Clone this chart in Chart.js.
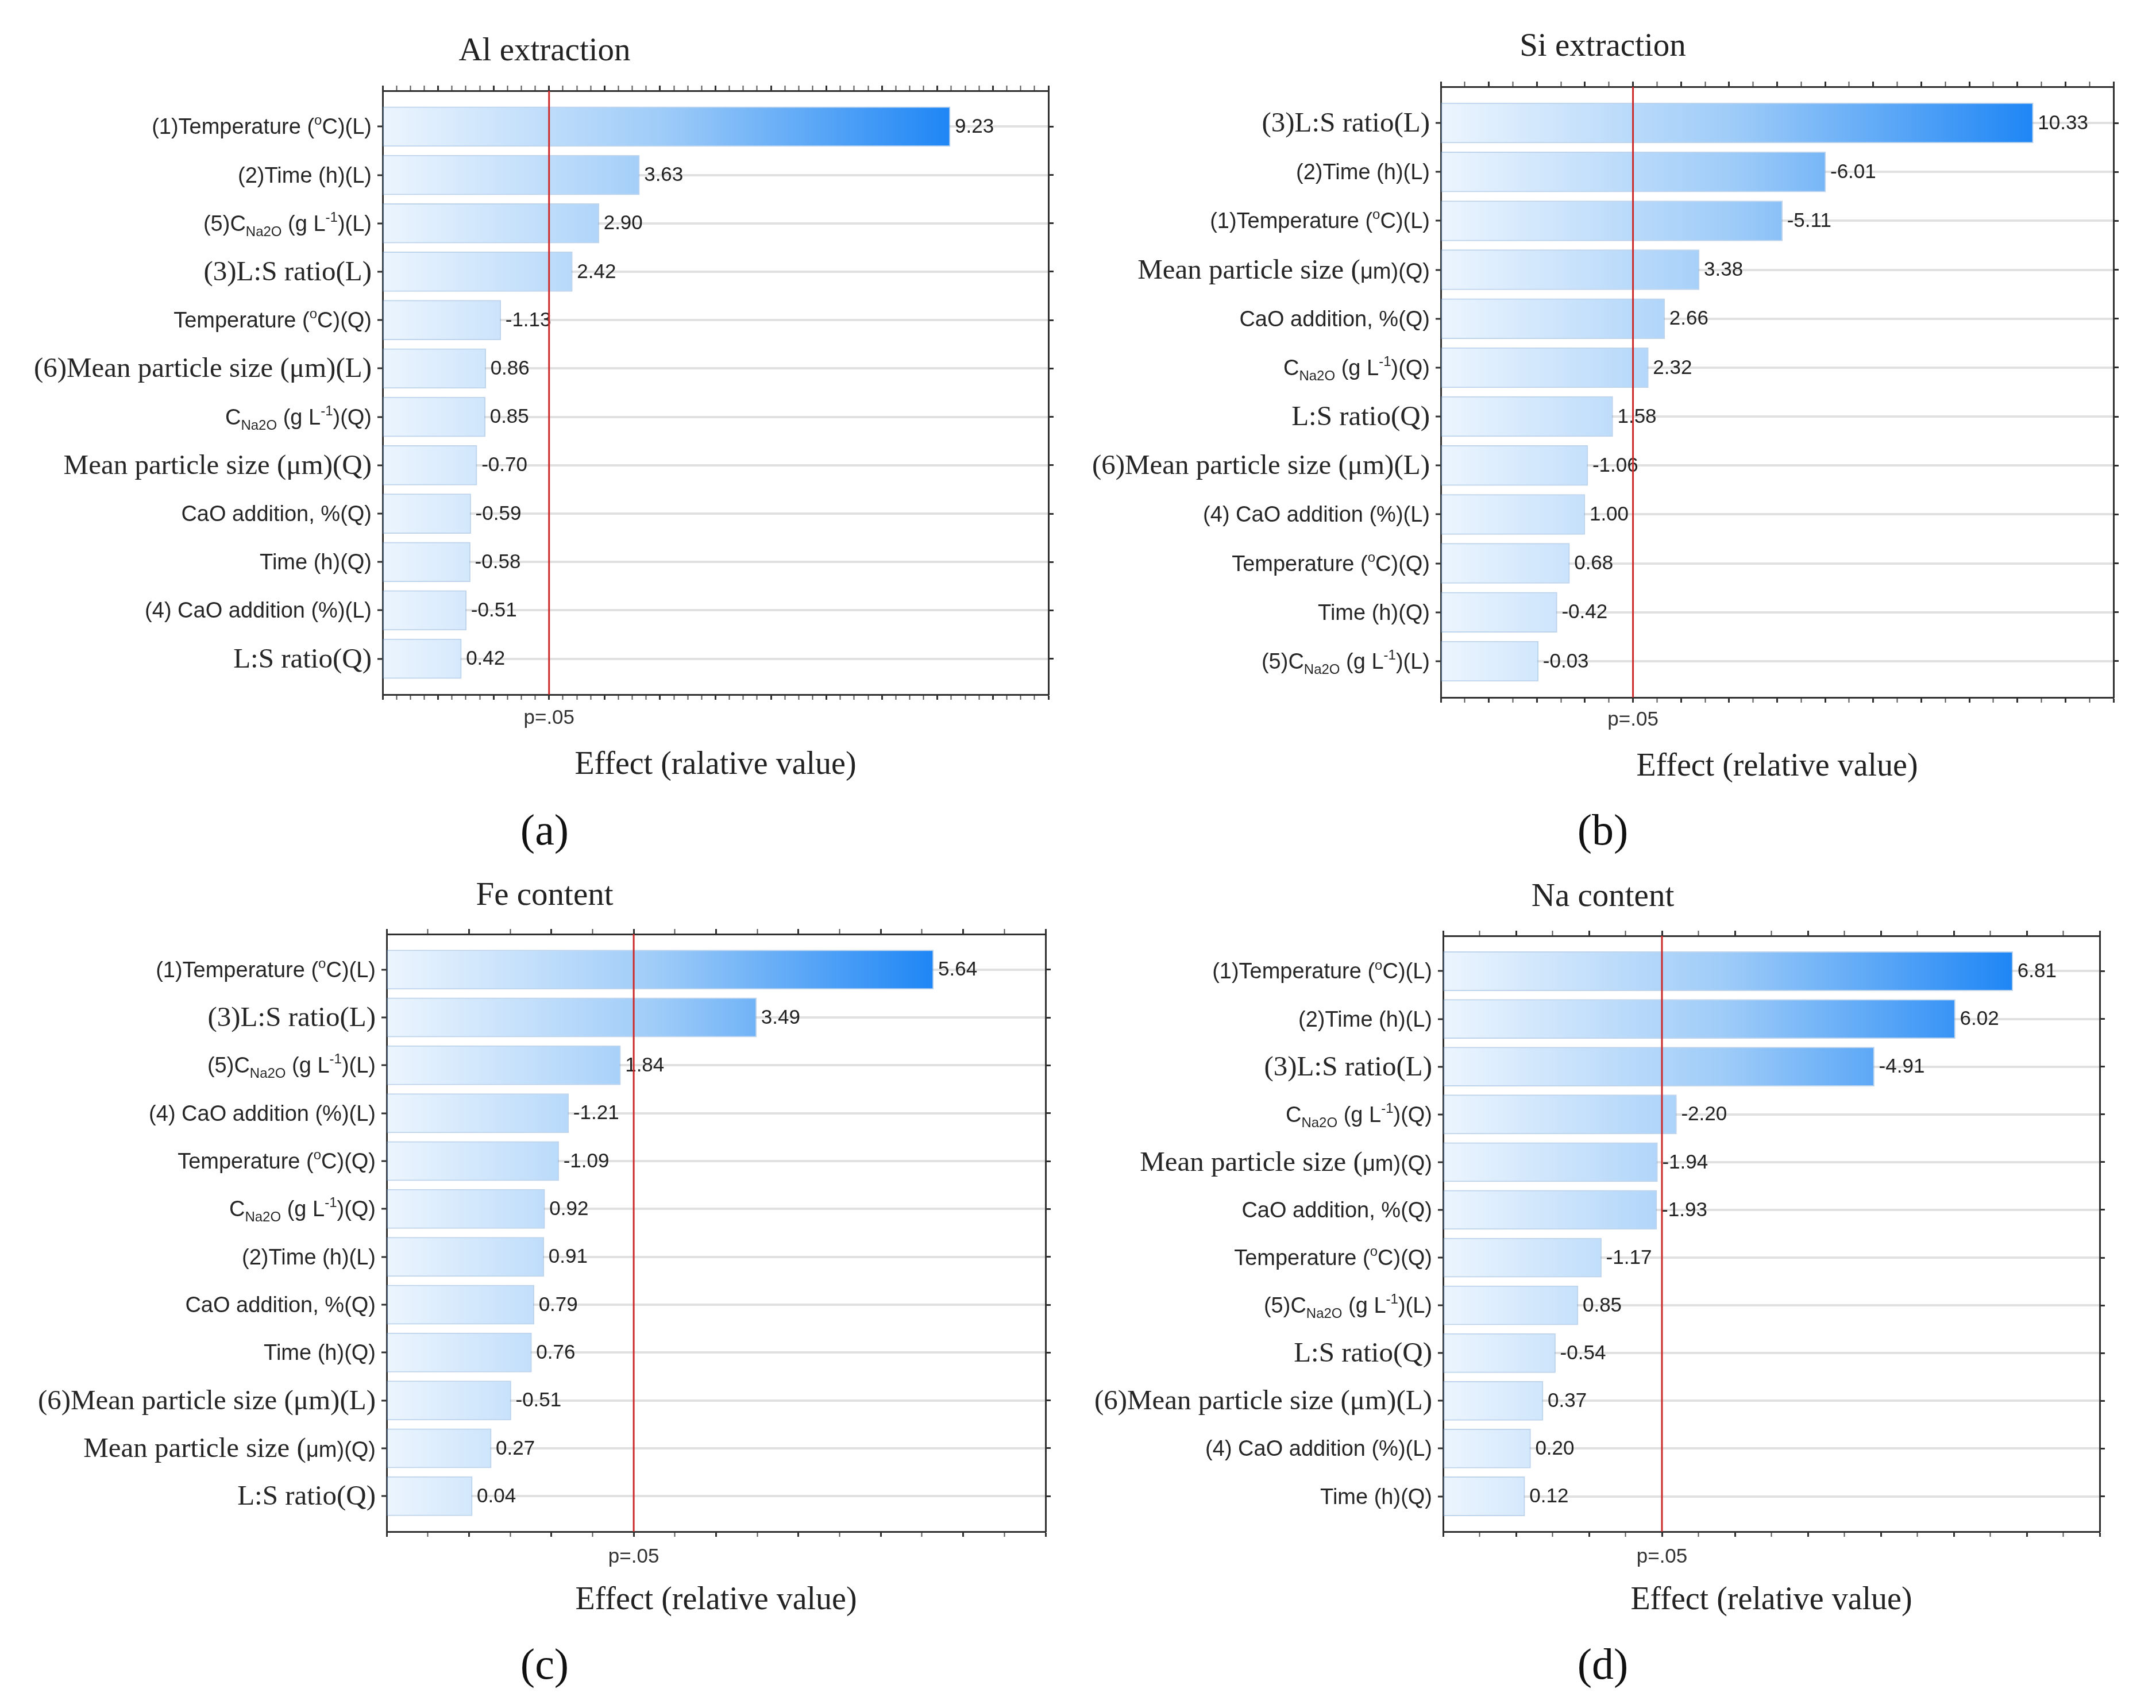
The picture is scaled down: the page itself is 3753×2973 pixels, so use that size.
<!DOCTYPE html>
<html>
<head>
<meta charset="utf-8">
<script src="https://cdn.jsdelivr.net/npm/chart.js@4.4.1/dist/chart.umd.min.js"></script>
<style>
  html, body { margin: 0; padding: 0; background: #fff; }
  #page { position: relative; width: 3753px; height: 2973px; overflow: hidden; background: #fff; }
  canvas { position: absolute; }
</style>
</head>
<body>
<div id="page"></div>
<script>
// Label markup: [..] = serif text, _{..} = subscript, ^{..} = superscript
const alLabels = [
  "(1)Temperature (^{o}C)(L)", "(2)Time (h)(L)", "(5)C_{Na2O} (g L^{-1})(L)", "[(3)L:S ratio(L)]",
  "Temperature (^{o}C)(Q)", "[(6)Mean particle size (μm)(L)]", "C_{Na2O} (g L^{-1})(Q)",
  "[Mean particle size (μm)(Q)]", "CaO addition, %(Q)", "Time (h)(Q)", "(4) CaO addition (%)(L)", "[L:S ratio(Q)]"
];
const alValues = [9.23, 3.63, 2.90, 2.42, -1.13, 0.86, 0.85, -0.70, -0.59, -0.58, -0.51, 0.42];

const siLabels = [
  "[(3)L:S ratio(L)]", "(2)Time (h)(L)", "(1)Temperature (^{o}C)(L)", "[Mean particle size (]μm)(Q)",
  "CaO addition, %(Q)", "C_{Na2O} (g L^{-1})(Q)", "[L:S ratio(Q)]", "[(6)Mean particle size (μm)(L)]",
  "(4) CaO addition (%)(L)", "Temperature (^{o}C)(Q)", "Time (h)(Q)", "(5)C_{Na2O} (g L^{-1})(L)"
];
const siValues = [10.33, -6.01, -5.11, 3.38, 2.66, 2.32, 1.58, -1.06, 1.00, 0.68, -0.42, -0.03];

const feLabels = [
  "(1)Temperature (^{o}C)(L)", "[(3)L:S ratio(L)]", "(5)C_{Na2O} (g L^{-1})(L)", "(4) CaO addition (%)(L)",
  "Temperature (^{o}C)(Q)", "C_{Na2O} (g L^{-1})(Q)", "(2)Time (h)(L)", "CaO addition, %(Q)",
  "Time (h)(Q)", "[(6)Mean particle size (μm)(L)]", "[Mean particle size (]μm)(Q)", "[L:S ratio(Q)]"
];
const feValues = [5.64, 3.49, 1.84, -1.21, -1.09, 0.92, 0.91, 0.79, 0.76, -0.51, 0.27, 0.04];

const naLabels = [
  "(1)Temperature (^{o}C)(L)", "(2)Time (h)(L)", "[(3)L:S ratio(L)]", "C_{Na2O} (g L^{-1})(Q)",
  "[Mean particle size (]μm)(Q)", "CaO addition, %(Q)", "Temperature (^{o}C)(Q)", "(5)C_{Na2O} (g L^{-1})(L)",
  "[L:S ratio(Q)]", "[(6)Mean particle size (μm)(L)]", "(4) CaO addition (%)(L)", "Time (h)(Q)"
];
const naValues = [6.81, 6.02, -4.91, -2.20, -1.94, -1.93, -1.17, 0.85, -0.54, 0.37, 0.20, 0.12];

const panelTitles = ["Al extraction", "Si extraction", "Fe content", "Na content"];
const axisTitles = ["Effect (ralative value)", "Effect (relative value)", "Effect (relative value)", "Effect (relative value)"];
const panelTags = ["(a)", "(b)", "(c)", "(d)"];
const axisMin = [-1, -2, -1, -1];
const axisMax = [11, 12, 7, 8];
const minorStep = [0.25, 0.5, 0.5, 0.5];
const critValue = 2.0;
const critLabel = "p=.05";

// where each plot frame sits on the page
const frames = [
  { left: 666, right: 1825, top: 158, bottom: 1209, titleX: 948, titleY: 90, tickY: 1250, axisTitleY: 1332, tagY: 1450, canvasTop: 0, canvasH: 1500 },
  { left: 2508, right: 3679, top: 151, bottom: 1214, titleX: 2790, titleY: 82, tickY: 1253, axisTitleY: 1335, tagY: 1450, canvasTop: 0, canvasH: 1500 },
  { left: 673, right: 1820, top: 1626, bottom: 2666, titleX: 948, titleY: 1560, tickY: 2710, axisTitleY: 2786, tagY: 2902, canvasTop: 1500, canvasH: 1473 },
  { left: 2512, right: 3655, top: 1629, bottom: 2666, titleX: 2790, titleY: 1562, tickY: 2710, axisTitleY: 2786, tagY: 2902, canvasTop: 1500, canvasH: 1473 }
];

const SANS = "Liberation Sans";
const SERIF = "Liberation Serif";
const sansSize = 38;
const serifSize = 49;
const titleSize = 57;
const axisTitleSize = 56;
const tagSize = 76;
const tickFontSize = 35;
const valueFontSize = 35;
const tickLen = 9;
const rowPad = 0.74;
const barShare = 0.82;

Chart.defaults.font.family = SANS;

function parseLabel(str) {
  const segs = [];
  let serif = false, buf = "", i = 0;
  const push = (text, mode) => { if (text) segs.push({ text, serif, mode }); };
  while (i < str.length) {
    const c = str[i];
    if (c === "[" || c === "]") {
      push(buf, "n"); buf = "";
      serif = c === "[";
      i++;
    } else if ((c === "_" || c === "^") && str[i + 1] === "{") {
      push(buf, "n"); buf = "";
      const end = str.indexOf("}", i);
      push(str.slice(i + 2, end), c === "_" ? "sub" : "sup");
      i = end + 1;
    } else {
      buf += c; i++;
    }
  }
  push(buf, "n");
  return segs;
}

function segFont(s) {
  const base = s.serif ? serifSize : sansSize;
  const size = s.mode === "n" ? base : Math.round(base * 0.62);
  return size + 'px "' + (s.serif ? SERIF : SANS) + '"';
}

function drawRichLabel(ctx, text, xRight, yMid) {
  const segs = parseLabel(text);
  let total = 0;
  segs.forEach(s => { ctx.font = segFont(s); s.w = ctx.measureText(s.text).width; total += s.w; });
  const baseline = yMid + (segs[0].serif ? 15 : 13);
  let x = xRight - total;
  segs.forEach(s => {
    const base = s.serif ? serifSize : sansSize;
    const dy = s.mode === "sub" ? base * 0.24 : (s.mode === "sup" ? -base * 0.42 : 0);
    ctx.font = segFont(s);
    ctx.fillText(s.text, x, baseline + dy);
    x += s.w;
  });
}

function stepTicks(min, max, step) {
  const out = [];
  const n = Math.round((max - min) / step);
  for (let i = 0; i <= n; i++) out.push({ value: +(min + i * step).toFixed(4) });
  return out;
}

// tick context may be missing when the scale resolves options for itself
const isMajor = c => !!(c && c.tick) && Math.abs(c.tick.value - Math.round(c.tick.value)) < 1e-6;

function makePanel(k, labels, values) {
  const f = frames[k];
  const page = document.getElementById("page");
  const cw = 1810;
  const cx = f.titleX - cw / 2;
  const cv = document.createElement("canvas");
  cv.width = cw; cv.height = f.canvasH;
  cv.style.left = cx + "px"; cv.style.top = f.canvasTop + "px";
  cv.style.width = cw + "px"; cv.style.height = f.canvasH + "px";
  page.appendChild(cv);

  const L = f.left - cx, R = f.right - cx;
  const T = f.top - f.canvasTop, B = f.bottom - f.canvasTop;
  const titleY = f.titleY - f.canvasTop;
  const tickY = f.tickY - f.canvasTop;
  const axisTitleY = f.axisTitleY - f.canvasTop;
  const tagY = f.tagY - f.canvasTop;

  const topAxisH = tickLen;
  const titlePadTop = titleY - 0.6 * titleSize;
  const titlePadBottom = T - topAxisH - titlePadTop - 1.2 * titleSize;
  const bottomAxisH = axisTitleY + 0.6 * axisTitleSize - B;
  const tickPad = tickY - B - tickLen - 0.6 * tickFontSize;
  const tagPadTop = tagY - (B + bottomAxisH) - 0.6 * tagSize;
  const tagBoxH = tagPadTop + 1.2 * tagSize;
  const padBottom = f.canvasH - (B + bottomAxisH + tagBoxH);

  const n = values.length;
  const yMin = -rowPad, yMax = n - 1 + rowPad;
  const xMin = axisMin[k], xMax = axisMax[k];
  const maxEffect = Math.max(...values.map(v => Math.abs(v)));
  const rowPx = (B - T) / (yMax - yMin);

  const barFill = (c) => {
    const chart = c.chart;
    const area = chart.chartArea;
    if (!area) return "#9ccbf8";
    const x1 = chart.scales.x.getPixelForValue(maxEffect);
    const g = chart.ctx.createLinearGradient(area.left, 0, x1, 0);
    g.addColorStop(0, "#ecf5fe");
    g.addColorStop(0.5, "#9dcbf8");
    g.addColorStop(1, "#1e86f5");
    return g;
  };

  const decor = {
    id: "paretoDecor" + k,
    afterDatasetsDraw(chart) {
      const { ctx, chartArea } = chart;
      const meta = chart.getDatasetMeta(0);
      ctx.save();
      ctx.font = valueFontSize + 'px "' + SANS + '"';
      ctx.fillStyle = "#222";
      ctx.textAlign = "left";
      ctx.textBaseline = "middle";
      meta.data.forEach((bar, i) => {
        ctx.fillText(values[i].toFixed(2), bar.x + 8, bar.y + 1);
      });
      const xc = chart.scales.x.getPixelForValue(critValue);
      ctx.strokeStyle = "#cc2a2a";
      ctx.lineWidth = 3;
      ctx.beginPath();
      ctx.moveTo(xc, chartArea.top);
      ctx.lineTo(xc, chartArea.bottom);
      ctx.stroke();
      ctx.restore();
    },
    afterDraw(chart) {
      const { ctx, chartArea } = chart;
      const ys = chart.scales.y;
      ctx.save();
      ctx.fillStyle = "#262626";
      ctx.textAlign = "left";
      ctx.textBaseline = "alphabetic";
      labels.forEach((lab, i) => {
        drawRichLabel(ctx, lab, chartArea.left - 19, ys.getPixelForValue(i));
      });
      ctx.restore();
    }
  };

  const frameBorder = { display: true, color: "#303030", width: 3 };
  const tickStyle = {
    drawOnChartArea: false,
    drawTicks: true,
    tickLength: tickLen,
    color: "#555",
    tickColor: c => isMajor(c) ? "#303030" : "#555",
    tickWidth: c => isMajor(c) ? 3 : 2
  };

  new Chart(cv, {
    type: "bar",
    data: {
      datasets: [{
        data: values.map((v, i) => ({ x: Math.abs(v), y: i })),
        base: xMin,
        backgroundColor: barFill,
        borderColor: "rgba(110,160,215,0.45)",
        borderWidth: 2,
        borderSkipped: false,
        barThickness: rowPx * barShare
      }]
    },
    options: {
      indexAxis: "y",
      responsive: false,
      animation: false,
      devicePixelRatio: 1,
      layout: { padding: { left: 0, right: 0, top: 0, bottom: padBottom } },
      plugins: {
        legend: { display: false },
        tooltip: { enabled: false },
        title: {
          display: true,
          text: panelTitles[k],
          color: "#222",
          font: { family: SERIF, size: titleSize, weight: "normal" },
          padding: { top: titlePadTop, bottom: titlePadBottom }
        },
        subtitle: {
          display: true,
          position: "bottom",
          text: panelTags[k],
          color: "#111",
          font: { family: SERIF, size: tagSize, weight: "normal" },
          padding: { top: tagPadTop, bottom: 0 }
        }
      },
      scales: {
        x: {
          type: "linear",
          position: "bottom",
          offset: false,
          min: xMin,
          max: xMax,
          afterBuildTicks: s => { s.ticks = stepTicks(xMin, xMax, minorStep[k]); },
          afterFit: s => { s.height = bottomAxisH; },
          ticks: {
            autoSkip: false,
            maxRotation: 0,
            minRotation: 0,
            padding: tickPad,
            color: "#333",
            font: { family: SANS, size: tickFontSize },
            callback: v => Math.abs(v - critValue) < 1e-6 ? critLabel : ""
          },
          grid: tickStyle,
          border: frameBorder,
          title: {
            display: true,
            text: axisTitles[k],
            color: "#222",
            font: { family: SERIF, size: axisTitleSize },
            padding: { top: 0, bottom: 0 }
          }
        },
        x2: {
          type: "linear",
          position: "top",
          offset: false,
          min: xMin,
          max: xMax,
          afterBuildTicks: s => { s.ticks = stepTicks(xMin, xMax, minorStep[k]); },
          afterFit: s => { s.height = topAxisH; },
          ticks: { display: false },
          grid: tickStyle,
          border: frameBorder
        },
        y: {
          type: "linear",
          position: "left",
          offset: false,
          reverse: true,
          min: yMin,
          max: yMax,
          afterBuildTicks: s => { s.ticks = stepTicks(0, n - 1, 1); },
          afterFit: s => { s.width = L; },
          ticks: { display: false },
          grid: {
            offset: false,
            drawOnChartArea: true,
            drawTicks: true,
            tickLength: tickLen,
            color: "#e0e0e0",
            lineWidth: 4,
            tickColor: "#303030",
            tickWidth: 3
          },
          border: frameBorder
        },
        y2: {
          type: "linear",
          position: "right",
          offset: false,
          reverse: true,
          min: yMin,
          max: yMax,
          afterBuildTicks: s => { s.ticks = stepTicks(0, n - 1, 1); },
          afterFit: s => { s.width = cw - R; },
          ticks: { display: false },
          grid: {
            offset: false,
            drawOnChartArea: false,
            drawTicks: true,
            tickLength: tickLen,
            color: "#555",
            tickColor: "#303030",
            tickWidth: 3
          },
          border: frameBorder
        }
      }
    },
    plugins: [decor]
  });
}

makePanel(0, alLabels, alValues);
makePanel(1, siLabels, siValues);
makePanel(2, feLabels, feValues);
makePanel(3, naLabels, naValues);
</script>
</body>
</html>
